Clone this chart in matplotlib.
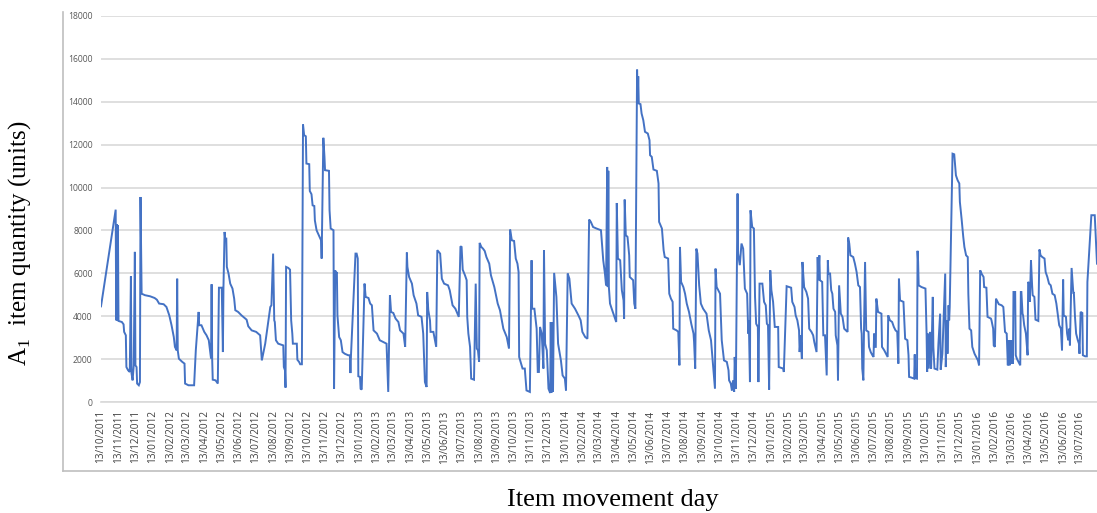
import pandas as pd
import matplotlib
matplotlib.use('Agg')
import matplotlib.pyplot as plt
from matplotlib.lines import Line2D

plt.rcParams['mathtext.fontset'] = 'custom'
plt.rcParams['mathtext.rm'] = 'Liberation Serif'

# Item movement: vertices (day offset from 13/10/2011, units)
start_date = '2011-10-13'
day = [0, 26, 27, 28, 29, 30, 31, 37, 40, 41, 44, 45, 48, 51, 53, 54, 56, 58, 60, 61,
       63, 64, 67, 69, 70, 72, 78, 87, 95, 99, 103, 111, 116, 121, 125, 129, 131, 134, 135, 136,
       138, 144, 148, 149, 155, 165, 168, 173, 174, 178, 183, 187, 191, 195, 196, 197, 198, 203, 207, 209,
       214, 216, 217, 219, 220, 222, 223, 226, 229, 233, 236, 238, 243, 249, 258, 261, 267, 275, 282, 285,
       291, 300, 302, 305, 307, 308, 310, 314, 323, 324, 326, 327, 328, 332, 335, 337, 339, 340, 347, 348,
       351, 353, 356, 358, 360, 363, 364, 369, 370, 373, 375, 378, 379, 382, 386, 390, 391, 394, 396, 397,
       404, 405, 407, 412, 413, 415, 416, 418, 419, 422, 425, 428, 432, 438, 441, 442, 443, 451, 453, 455,
       456, 459, 460, 462, 467, 469, 474, 477, 480, 483, 489, 494, 500, 506, 509, 512, 514, 518, 522, 527,
       530, 536, 539, 542, 543, 546, 551, 554, 556, 559, 562, 568, 571, 574, 577, 578, 580, 583, 584, 589,
       591, 594, 596, 601, 604, 608, 615, 618, 623, 628, 634, 637, 639, 641, 645, 648, 649, 651, 654, 656,
       661, 664, 666, 668, 670, 671, 674, 677, 680, 683, 688, 691, 697, 703, 707, 713, 719, 723, 725, 728,
       732, 735, 738, 740, 741, 747, 751, 754, 760, 763, 764, 768, 772, 774, 776, 778, 781, 784, 785, 787,
       790, 793, 796, 797, 798, 799, 801, 803, 806, 807, 810, 815, 818, 822, 824, 827, 830, 834, 840, 846,
       850, 853, 858, 862, 865, 868, 872, 878, 886, 890, 893, 895, 897, 898, 899, 900, 902, 905, 910, 913,
       914, 916, 920, 923, 926, 927, 928, 930, 933, 936, 937, 943, 945, 947, 950, 951, 952, 953, 956, 958,
       961, 964, 969, 972, 973, 976, 979, 985, 988, 989, 994, 997, 999, 1005, 1007, 1010, 1013, 1014, 1020, 1023,
       1025, 1026, 1028, 1032, 1035, 1038, 1042, 1046, 1050, 1051, 1053, 1055, 1057, 1060, 1063, 1067, 1073, 1077, 1081, 1083,
       1085, 1088, 1089, 1091, 1097, 1100, 1104, 1109, 1112, 1113, 1116, 1118, 1120, 1122, 1123, 1125, 1128, 1129, 1132, 1135,
       1138, 1141, 1145, 1147, 1148, 1150, 1151, 1154, 1157, 1159, 1161, 1164, 1165, 1167, 1172, 1175, 1178, 1180, 1182, 1184,
       1186, 1188, 1191, 1194, 1200, 1201, 1209, 1210, 1215, 1223, 1225, 1229, 1231, 1234, 1237, 1238, 1240, 1242, 1243, 1244,
       1246, 1250, 1253, 1255, 1259, 1262, 1264, 1268, 1270, 1271, 1273, 1274, 1278, 1280, 1283, 1286, 1288, 1289, 1292, 1294,
       1296, 1298, 1301, 1302, 1305, 1306, 1308, 1311, 1314, 1317, 1320, 1323, 1324, 1326, 1328, 1333, 1336, 1339, 1342, 1345,
       1347, 1348, 1349, 1351, 1352, 1354, 1356, 1360, 1361, 1364, 1367, 1369, 1370, 1371, 1373, 1374, 1377, 1383, 1384, 1388,
       1391, 1394, 1395, 1398, 1402, 1405, 1408, 1411, 1413, 1414, 1416, 1422, 1425, 1429, 1431, 1432, 1436, 1441, 1442, 1443,
       1446, 1447, 1448, 1449, 1454, 1461, 1463, 1464, 1465, 1467, 1469, 1471, 1472, 1474, 1475, 1477, 1482, 1484, 1487, 1488,
       1491, 1496, 1497, 1499, 1500, 1502, 1503, 1504, 1509, 1512, 1515, 1518, 1521, 1522, 1525, 1528, 1530, 1533, 1536, 1537,
       1539, 1542, 1544, 1548, 1551, 1554, 1556, 1558, 1561, 1564, 1565, 1569, 1571, 1577, 1578, 1581, 1582, 1584, 1586, 1589,
       1591, 1596, 1599, 1602, 1605, 1607, 1608, 1610, 1611, 1613, 1614, 1616, 1617, 1620, 1621, 1623, 1626, 1629, 1630, 1631,
       1633, 1634, 1636, 1639, 1642, 1643, 1645, 1646, 1648, 1650, 1651, 1654, 1656, 1661, 1663, 1665, 1668, 1672, 1674, 1677,
       1680, 1683, 1686, 1690, 1693, 1698, 1701, 1703, 1705, 1706, 1710, 1712, 1714, 1716, 1717, 1720, 1723, 1724, 1726, 1728,
       1731, 1733, 1734, 1736, 1739, 1740, 1744, 1747, 1748, 1755, 1761, 1765]
qty = [4460, 8970, 3810, 8290, 3810, 8240, 3780, 3730, 3620, 3270, 3110, 1630, 1480, 1400, 5860, 1350, 1010, 1710, 7000, 1710,
       1630, 860, 780, 930, 9560, 5050, 4980, 4930, 4850, 4770, 4590, 4560, 4430, 4040, 3580, 3030, 2570, 2410, 5750, 2410,
       2020, 1870, 1790, 860, 780, 780, 2410, 4200, 3580, 3580, 3270, 3110, 2880, 2020, 5490, 2020, 1040, 1010, 860, 5330,
       5330, 2330, 5330, 7930, 7620, 7620, 6300, 5990, 5520, 5290, 4820, 4280, 4200, 4040, 3840, 3530, 3340, 3270, 3110, 1940,
       2720, 4430, 4510, 6920, 3810, 3730, 2880, 2720, 2640, 1630, 1480, 670, 6300, 6250, 6170, 3810, 3190, 2720, 2720, 1970,
       1870, 1760, 1760, 12940, 12440, 12390, 11120, 11090, 9840, 9690, 9170, 9140, 8470, 8010, 7780, 7540, 6690, 12320, 11430, 10810,
       10780, 8940, 8090, 8010, 620, 6140, 5990, 6060, 4040, 3030, 2880, 2330, 2250, 2180, 2180, 1350, 2180, 6920, 6920, 6690,
       1200, 1170, 620, 580, 5520, 4900, 4850, 4590, 4510, 3340, 3190, 2880, 2800, 2720, 470, 4980, 4200, 4150, 3890, 3730,
       3340, 3190, 2570, 6970, 6300, 5830, 5520, 4980, 4820, 4590, 4040, 3970, 3190, 930, 700, 5130, 4280, 3810, 3270, 3270,
       3000, 2570, 7080, 6920, 5750, 5520, 5440, 5210, 4510, 4350, 3970, 7260, 7230, 6170, 5910, 5680, 3970, 3190, 2570, 1090,
       1040, 5520, 2490, 2410, 1870, 7420, 7230, 7150, 7040, 6760, 6450, 5910, 5360, 4590, 4280, 3420, 3030, 2490, 8040, 7540,
       7510, 6690, 6450, 6060, 2100, 1560, 1560, 540, 470, 6610, 4350, 4350, 3420, 1400, 1400, 3500, 3190, 1560, 7080, 2720,
       2410, 620, 420, 3730, 420, 3730, 470, 6020, 5210, 4900, 2720, 1940, 1240, 1090, 540, 5990, 5750, 4590, 4350, 4040,
       3810, 3270, 3030, 2950, 8510, 8400, 8160, 8090, 8010, 6610, 5990, 5440, 10960, 5360, 10780, 5360, 4590, 4350, 3970, 3730,
       9280, 6690, 6610, 5210, 4740, 3890, 9440, 7780, 7700, 6840, 5830, 5680, 4590, 4350, 15500, 13920, 15190, 13920, 13890, 13450,
       13140, 12600, 12520, 12210, 11510, 11430, 10840, 10780, 10190, 8400, 8090, 7080, 6760, 6690, 5050, 4820, 4670, 3420, 3340, 3270,
       1710, 7230, 5600, 5360, 5050, 4590, 4200, 3650, 3190, 2800, 1560, 7150, 6920, 5440, 4590, 4350, 4120, 3340, 2880, 2250,
       1630, 620, 6220, 5360, 5050, 2880, 1940, 1870, 1480, 1010, 860, 540, 1010, 470, 2100, 620, 9720, 6920, 6380, 7390,
       7150, 5290, 5050, 3190, 3810, 930, 8940, 8160, 8090, 4900, 3650, 3500, 930, 5520, 5520, 4670, 4510, 3650, 3580, 580,
       6140, 5210, 4670, 3500, 3500, 1630, 1560, 1400, 5400, 5330, 4670, 4430, 4040, 3810, 3340, 2330, 3100, 2020, 6530, 6140,
       5360, 5130, 4820, 3420, 3270, 3110, 2800, 2330, 6760, 5680, 6840, 5680, 5600, 3110, 3110, 1240, 6610, 5990, 5990, 5210,
       5050, 4350, 4200, 3110, 2640, 1010, 5440, 4120, 3970, 3420, 3340, 3270, 7670, 7390, 6840, 6760, 6450, 6060, 5440, 5360,
       3420, 3190, 1560, 1010, 3190, 6530, 3340, 3270, 2570, 2330, 2180, 2100, 3190, 2570, 2570, 4820, 4200, 4120, 2570, 2410,
       2250, 2100, 4040, 3810, 3730, 3500, 3340, 3270, 1790, 5750, 4740, 4670, 2950, 2880, 2180, 1170, 1140, 1090, 2220, 1110,
       1090, 7050, 6530, 5440, 5360, 5290, 3190, 1400, 3190, 1560, 3270, 1560, 2570, 4900, 2570, 1560, 1510, 2720, 4120, 1510,
       2250, 5990, 1630, 3810, 2250, 4510, 3810, 4430, 11580, 11550, 10570, 10340, 10190, 9330, 8550, 7700, 7230, 6840, 6760, 5050,
       3420, 3340, 2570, 2250, 2100, 1940, 1710, 6140, 5960, 5830, 5360, 5330, 3970, 3890, 3810, 3420, 2640, 2570, 4820, 4670,
       4560, 4510, 4430, 3270, 3190, 1710, 2880, 1710, 2880, 1790, 2880, 1790, 5130, 5130, 2180, 2020, 1870, 1710, 5130, 5130,
       4120, 4040, 3580, 3190, 2180, 5600, 5520, 4670, 6610, 5440, 4980, 4900, 3840, 3780, 7110, 6840, 6760, 6690, 6060, 5830,
       5520, 5440, 5050, 4980, 4590, 3580, 3420, 2410, 5710, 4040, 3970, 3190, 2880, 3420, 2640, 6250, 5090, 5090, 3970, 3190,
       2880, 2720, 2250, 4200, 4150, 2180, 2130, 2130, 5600, 8710, 8710, 6450]

y_ticks = [0, 2000, 4000, 6000, 8000, 10000, 12000, 14000, 16000, 18000]

dates = pd.to_datetime(start_date) + pd.to_timedelta(day, unit='D')
tick_dates = pd.date_range(start_date, '2016-07-13', freq=pd.DateOffset(months=1))

fig = plt.figure(figsize=(10.97, 5.13), dpi=100)
ax = fig.add_axes([101 / 1097, 1 - 402 / 513, 1 - 101 / 1097, (402 - 16) / 513])

ax.plot(dates, qty, color='#4472c4', lw=1.4, solid_joinstyle='miter')

ax.set_ylim(0, 18000)
ax.set_xlim(pd.to_datetime(start_date), pd.to_datetime(start_date) + pd.Timedelta(days=1765))
ax.set_yticks(y_ticks)
ax.set_yticklabels([str(v) for v in y_ticks], fontsize=6.2, color='#595959', family='Open Sans')
ax.set_xticks(tick_dates)
ax.set_xticklabels([d.strftime('%d/%m/%Y') for d in tick_dates], rotation=90,
                   fontsize=7.2, color='#404040', family='Open Sans', va='top', ha='center')
ax.tick_params(axis='both', length=0)
ax.tick_params(axis='y', pad=6)
ax.tick_params(axis='x', pad=6)
ax.grid(axis='y', color='#d9d9d9', lw=1.2)
ax.set_axisbelow(True)
for s in ['top', 'right', 'left']:
    ax.spines[s].set_visible(False)
ax.spines['bottom'].set_color('#d9d9d9')
ax.spines['bottom'].set_linewidth(1.2)

# chart area border (left and bottom visible in the crop)
fig.add_artist(Line2D([63 / 1097, 63 / 1097], [1 - 12 / 513, 1 - 471 / 513], color='#bfbfbf', lw=1.2))
fig.add_artist(Line2D([63 / 1097, 1.0], [1 - 471 / 513, 1 - 471 / 513], color='#bfbfbf', lw=1.2))

fig.text(20 / 1097, 1 - 243 / 513, r'A$_{\mathrm{1}}$  item quantity (units)', rotation=90,
         ha='center', va='center', fontsize=18, family='Liberation Serif')
fig.text(613 / 1097, 1 - 500 / 513, 'Item movement day', ha='center', va='center',
         fontsize=19, family='Liberation Serif')

fig.savefig('out.png', dpi=100)
